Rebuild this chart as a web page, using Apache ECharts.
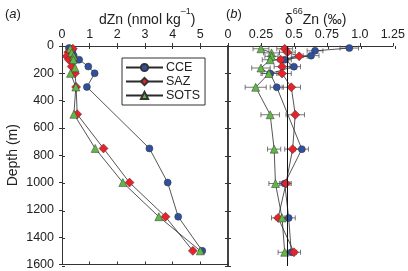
<!DOCTYPE html>
<html>
<head>
<meta charset="utf-8">
<script src="https://cdn.jsdelivr.net/npm/echarts@6/dist/echarts.min.js"></script>
<style>
  html, body { margin: 0; padding: 0; background: #fff; }
  #chart { width: 408px; height: 271px; }
</style>
</head>
<body>
<div id="chart"></div>
<script>
  // station profiles: depth (m), dZn (nmol/kg), d66Zn (permil), 2sd error
  const cceDepth = [15, 35, 70, 100, 150, 200, 300, 750, 1000, 1250, 1500]
  const cceZn = [0.25, 0.38, 0.42, 0.62, 0.95, 1.18, 0.9, 3.16, 3.82, 4.2, 5.07]
  const cceD66 = [0.92, 0.66, 0.63, 0.43, 0.50, 0.32, 0.37, 0.56, 0.43, 0.46, 0.48]
  const cceErr = [0.07, 0.06, 0.06, 0.05, 0.05, 0.06, 0.05, 0.05, 0.04, 0.05, 0.04]

  const sazDepth = [20, 45, 75, 100, 150, 200, 300, 500, 750, 1000, 1250, 1500]
  const sazZn = [0.39, 0.23, 0.17, 0.25, 0.35, 0.47, 0.51, 0.55, 1.5, 2.44, 3.74, 4.73]
  const sazD66 = [0.43, 0.45, 0.54, 0.40, 0.41, 0.41, 0.48, 0.51, 0.49, 0.44, 0.38, 0.50]
  const sazErr = [0.06, 0.06, 0.06, 0.06, 0.06, 0.07, 0.07, 0.07, 0.06, 0.04, 0.05, 0.05]

  const sotsDepth = [20, 50, 75, 100, 160, 200, 300, 500, 750, 1000, 1250, 1500]
  const sotsZn = [0.3, 0.35, 0.42, 0.41, 0.47, 0.31, 0.5, 0.43, 1.2, 2.2, 3.5, 5.0]
  const sotsD66 = [0.25, 0.33, 0.33, 0.32, 0.25, 0.31, 0.21, 0.32, 0.35, 0.36, 0.41, 0.43]
  const sotsErr = [0.06, 0.06, 0.05, 0.06, 0.07, 0.06, 0.08, 0.07, 0.05, 0.05, 0.05, 0.05]

  const refD66 = 0.45
  const depthTicks = [0, 200, 400, 600, 800, 1000, 1200, 1400, 1600]

  const FONT = 'Liberation Sans, Arial, sans-serif'
  const AXC = '#333'

  const chart = echarts.init(document.getElementById('chart'))

  function pairs(xs, ds) {
    return xs.map((v, i) => [v, ds[i]])
  }
  function errData(xs, ds, es) {
    return xs.map((v, i) => [v, ds[i], es[i]])
  }

  const stations = [
    { name: 'CCE', depth: cceDepth, zn: cceZn, d66: cceD66, err: cceErr, color: '#2f4f9f', symbol: 'circle', size: 7 },
    { name: 'SAZ', depth: sazDepth, zn: sazZn, d66: sazD66, err: sazErr, color: '#e8222a', symbol: 'diamond', size: 9 },
    { name: 'SOTS', depth: sotsDepth, zn: sotsZn, d66: sotsD66, err: sotsErr, color: '#62b846', symbol: 'triangle', size: 8 }
  ]

  function xAxisDef(grid, pos, min, max, interval, opts) {
    return Object.assign({
      gridIndex: grid, type: 'value', position: pos, min: min, max: max, interval: interval,
      axisLine: { show: true, lineStyle: { color: AXC, width: 1 } },
      axisTick: { show: true, inside: false, length: 3, lineStyle: { color: AXC } },
      axisLabel: { show: false },
      splitLine: { show: false }
    }, opts || {})
  }
  function yAxisDef(grid, pos, opts) {
    return Object.assign({
      gridIndex: grid, type: 'value', position: pos, inverse: true, min: 0, max: 1600, interval: 200,
      axisLine: { show: true, lineStyle: { color: AXC, width: 1 } },
      axisTick: { show: true, inside: false, length: 3, lineStyle: { color: AXC } },
      axisLabel: { show: false },
      splitLine: { show: false }
    }, opts || {})
  }

  const gridA = { left: 62, right: 180, top: 46, bottom: 5 }
  const gridB = { left: 228, right: 13, top: 46, bottom: 5 }

  const series = []
  stations.forEach(s => {
    series.push({
      name: s.name, type: 'line', xAxisIndex: 0, yAxisIndex: 0,
      data: pairs(s.zn, s.depth),
      symbol: s.symbol, symbolSize: s.size,
      lineStyle: { color: '#2a2a2a', width: 0.8 },
      itemStyle: { color: s.color, borderColor: '#333', borderWidth: 0.5 },
      z: 3
    })
  })
  stations.forEach(s => {
    series.push({
      name: s.name + ' err', type: 'custom', xAxisIndex: 4, yAxisIndex: 4,
      data: errData(s.d66, s.depth, s.err),
      renderItem: function (params, api) {
        const x = api.value(0), d = api.value(1), e = api.value(2)
        const p0 = api.coord([x - e, d])
        const p1 = api.coord([x + e, d])
        const st = { stroke: '#555', lineWidth: 0.8 }
        return {
          type: 'group',
          children: [
            { type: 'line', shape: { x1: p0[0], y1: p0[1], x2: p1[0], y2: p1[1] }, style: st },
            { type: 'line', shape: { x1: p0[0], y1: p0[1] - 2.5, x2: p0[0], y2: p0[1] + 2.5 }, style: st },
            { type: 'line', shape: { x1: p1[0], y1: p1[1] - 2.5, x2: p1[0], y2: p1[1] + 2.5 }, style: st }
          ]
        }
      },
      silent: true, z: 2
    })
  })
  stations.forEach((s, i) => {
    const ser = {
      name: s.name, type: 'line', xAxisIndex: 4, yAxisIndex: 4,
      data: pairs(s.d66, s.depth),
      symbol: s.symbol, symbolSize: s.size,
      lineStyle: { color: '#2a2a2a', width: 0.8 },
      itemStyle: { color: s.color, borderColor: '#333', borderWidth: 0.5 },
      z: 3
    }
    if (i === 0) {
      ser.markLine = {
        silent: true, symbol: 'none', label: { show: false },
        lineStyle: { color: '#111', width: 1, type: 'solid' },
        data: [{ xAxis: refD66 }]
      }
    }
    series.push(ser)
  })

  chart.setOption({
    animation: false,
    backgroundColor: '#fff',
    textStyle: { fontFamily: FONT },
    title: [
      { text: '({i|a})', left: 0, top: 3, textStyle: { fontSize: 13, fontWeight: 'normal', color: '#222', fontFamily: FONT, rich: { i: { fontStyle: 'italic', fontSize: 13, fontFamily: FONT } } } },
      { text: '({i|b})', left: 221, top: 3, textStyle: { fontSize: 13, fontWeight: 'normal', color: '#222', fontFamily: FONT, rich: { i: { fontStyle: 'italic', fontSize: 13, fontFamily: FONT } } } },
      {
        text: '{n|dZn (nmol kg}{s|–1}{n|)}', left: 94, top: 2,
        textStyle: { fontWeight: 'normal', rich: {
          n: { fontSize: 14, color: '#222', fontFamily: FONT, lineHeight: 20, verticalAlign: 'bottom' },
          s: { fontSize: 9, color: '#222', fontFamily: FONT, lineHeight: 20, verticalAlign: 'top' }
        } }
      },
      {
        text: '{n|δ}{s|66}{n|Zn (‰)}', left: 280, top: 2,
        textStyle: { fontWeight: 'normal', rich: {
          n: { fontSize: 14, color: '#222', fontFamily: FONT, lineHeight: 20, verticalAlign: 'bottom' },
          s: { fontSize: 9, color: '#222', fontFamily: FONT, lineHeight: 20, verticalAlign: 'top' }
        } }
      }
    ],
    legend: {
      data: ['CCE', 'SAZ', 'SOTS'],
      orient: 'vertical', left: 122, top: 58,
      backgroundColor: '#fff',
      borderColor: '#333', borderWidth: 1, borderRadius: 0,
      padding: [3, 5, 3, 3],
      itemWidth: 37, itemHeight: 9, itemGap: 1,
      textStyle: { fontSize: 12.5, color: '#222', fontFamily: FONT, lineHeight: 10, padding: [0, 0, 0, -2] }
    },
    grid: [
      Object.assign({}, gridA), Object.assign({}, gridA),
      Object.assign({}, gridB), Object.assign({}, gridB)
    ],
    xAxis: [
      // panel a
      xAxisDef(0, 'top', 0, 6, 1, {
        axisLabel: { show: true, fontSize: 12.5, color: '#222', margin: 5, fontFamily: FONT,
          formatter: v => v > 5 ? '' : String(v) }
      }),
      xAxisDef(0, 'bottom', 0, 6, 1, { axisTick: { show: true, inside: true, length: 3, lineStyle: { color: AXC } } }),
      xAxisDef(1, 'top', 0, 6, 1, { axisLine: { show: false }, axisTick: { show: true, inside: true, length: 3, lineStyle: { color: AXC } } }),
      xAxisDef(1, 'bottom', 0, 6, 1, { axisLine: { show: false }, axisTick: { show: false } }),
      // panel b
      xAxisDef(2, 'top', 0, 1.25, 0.25, {
        axisLabel: { show: true, fontSize: 12.5, color: '#222', margin: 5, fontFamily: FONT,
          formatter: v => v === 1 ? '1.0' : String(v) }
      }),
      xAxisDef(2, 'bottom', 0, 1.25, 0.25, { axisTick: { show: true, inside: true, length: 3, lineStyle: { color: AXC } } }),
      xAxisDef(3, 'top', 0, 1.25, 0.25, { axisLine: { show: false }, axisTick: { show: true, inside: true, length: 3, lineStyle: { color: AXC } } }),
      xAxisDef(3, 'bottom', 0, 1.25, 0.25, { axisLine: { show: false }, axisTick: { show: false } })
    ],
    yAxis: [
      yAxisDef(0, 'left', {
        name: 'Depth (m)', nameLocation: 'middle', nameGap: 42, nameRotate: 90,
        nameTextStyle: { fontSize: 14, color: '#222', fontFamily: FONT },
        axisLabel: { show: true, fontSize: 12.5, color: '#222', margin: 8, fontFamily: FONT,
          formatter: v => depthTicks.indexOf(v) >= 0 ? String(v) : '' }
      }),
      yAxisDef(1, 'left', { axisLine: { show: false }, axisTick: { show: true, inside: true, length: 3, lineStyle: { color: AXC } } }),
      yAxisDef(1, 'right', { axisLine: { show: false }, axisTick: { show: false } }),
      yAxisDef(2, 'left', { axisLine: { show: true, lineStyle: { color: '#444', width: 2 } } }),
      yAxisDef(2, 'right', { axisLine: { show: true, lineStyle: { color: '#444', width: 2 } } }),
      yAxisDef(3, 'left', { axisLine: { show: false }, axisTick: { show: true, inside: true, length: 3, lineStyle: { color: AXC } } }),
      yAxisDef(3, 'right', { axisLine: { show: false }, axisTick: { show: true, inside: true, length: 3, lineStyle: { color: AXC } } })
    ],
    series: series.map(s => {
      // remap axis indices: panel b series use x index 4 and y index 3
      if (s.xAxisIndex === 4) s.yAxisIndex = 3
      return s
    })
  })
</script>
</body>
</html>
